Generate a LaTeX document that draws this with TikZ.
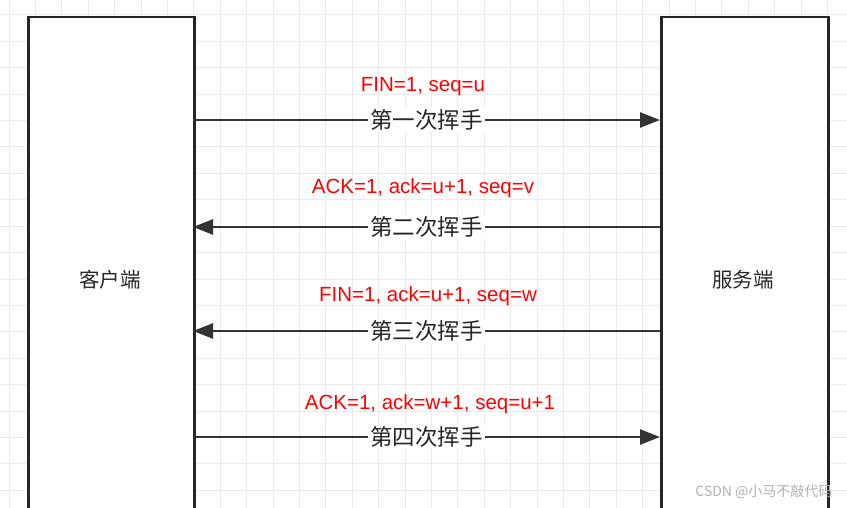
\documentclass[tikz,border=0pt]{standalone}
\usepackage{fontspec}
\setmainfont{Liberation Sans}
\newfontfamily\cjk{Noto Sans CJK SC}
\usetikzlibrary{arrows.meta}
\begin{document}
\begin{tikzpicture}[x=1pt,y=-1pt,
  box/.style={draw=black!85,line width=2.5pt,fill=white},
  msg/.style={line width=2.5pt,draw=black!80,-{Triangle[length=20pt,width=15pt]}},
  red/.style={text=red,font=\fontsize{20.5}{24}\selectfont},
  lab/.style={fill=white,inner sep=2pt,font=\cjk\fontsize{22.5}{26}\selectfont,text=black!85},
  ent/.style={font=\cjk\fontsize{20.5}{24}\selectfont,text=black!85}]
\useasboundingbox (0,0) rectangle (847,508);
\fill[white] (0,0) rectangle (847,508);
\foreach \i in {0,...,32} {\draw[black!8,line width=1pt] (9+26.4*\i,0) -- (9+26.4*\i,508);}
\foreach \i in {0,...,19} {\draw[black!8,line width=1pt] (0,15+26.4*\i) -- (847,15+26.4*\i);}
\node[box,minimum width=166pt,minimum height=510pt,anchor=north west] (c) at (27,16) {};
\node[box,minimum width=167pt,minimum height=510pt,anchor=north west] (s) at (660,16) {};
\node[ent] at (110,280) {客户端};
\node[ent] at (743,280) {服务端};
\coordinate (c1) at (193,120); \coordinate (s1) at (660,120);
\coordinate (c2) at (193,227); \coordinate (s2) at (660,227);
\coordinate (c3) at (193,331); \coordinate (s3) at (660,331);
\coordinate (c4) at (193,437); \coordinate (s4) at (660,437);
\draw[msg] (c1) -- node[lab]{第一次挥手} (s1);
\draw[msg] (s2) -- node[lab]{第二次挥手} (c2);
\draw[msg] (s3) -- node[lab]{第三次挥手} (c3);
\draw[msg] (c4) -- node[lab]{第四次挥手} (s4);
\node[red] at (423,87) {FIN=1, seq=u};
\node[red] at (423,188) {ACK=1, ack=u+1, seq=v};
\node[red] at (428,296) {FIN=1, ack=u+1, seq=w};
\node[red] at (430,404) {ACK=1, ack=w+1, seq=u+1};
\node[text=black!30,font=\cjk\fontsize{14}{16}\selectfont,anchor=east] at (836,492) {CSDN @小马不敲代码};
\end{tikzpicture}
\end{document}
